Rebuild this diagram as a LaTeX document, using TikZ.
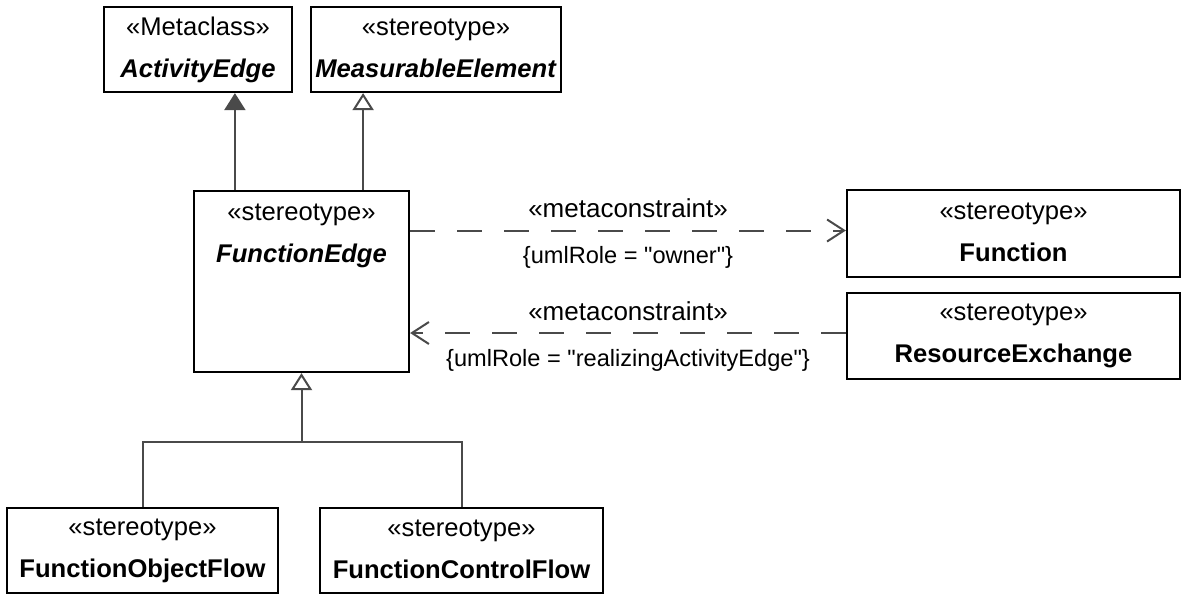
\documentclass[tikz,border=0pt]{standalone}
\usepackage{fontspec}
\setmainfont{Liberation Sans}[Ligatures=TeXOff]
\usepackage{xcolor}
\usetikzlibrary{arrows.meta}

\definecolor{edgegray}{HTML}{4A4A4A}
% strut that fixes the depth of the last line of a box
\newcommand{\lo}[1][1pt]{\rule[-#1]{0pt}{#1}}

\begin{document}
\begin{tikzpicture}[x=0.5pt, y=-0.5pt,
  classbox/.style={draw=black, line width=1.1pt, fill=white, align=center,
    font=\fontsize{12.8}{21}\selectfont, inner sep=0pt},
  conn/.style={draw=edgegray, line width=1pt},
  gen/.style={conn, -{Triangle[length=8.5pt, width=10.5pt, fill=white]}},
  ext/.style={conn, -{Triangle[length=8.5pt, width=10.5pt, fill=edgegray]}},
  dep/.style={conn, dash pattern=on 12.5pt off 11pt,
    -{Straight Barb[length=8.5pt, width=11pt]}},
  tag/.style={font=\fontsize{13}{15}\selectfont, anchor=base},
  role/.style={font=\fontsize{11.8}{15}\selectfont, anchor=base}]
  \useasboundingbox (0,0) rectangle (1182,594);

  % classes
  \node[classbox, minimum width=94pt, minimum height=42.5pt] (aedge) at (198,49.5)
       {«Metaclass»\\\textbf{\textit{ActivityEdge}}\lo};
  \node[classbox, minimum width=125pt, minimum height=42.5pt] (melem) at (436,49.5)
       {«stereotype»\\\textbf{\textit{MeasurableElement}}\lo};
  \node[classbox, minimum width=107.5pt, minimum height=90.5pt] (fedge) at (301.5,281.5)
       {«stereotype»\\\textbf{\textit{FunctionEdge}}\lo[48pt]};
  \node[classbox, minimum width=166.5pt, minimum height=43.5pt] (func) at (1013.5,233.5)
       {«stereotype»\\\textbf{Function}\lo};
  \node[classbox, minimum width=166.5pt, minimum height=43pt] (resx) at (1013.5,336)
       {«stereotype»\\\textbf{ResourceExchange}\lo};
  \node[classbox, minimum width=135.5pt, minimum height=42.5pt] (fobj) at (142.5,550.5)
       {«stereotype»\\\textbf{FunctionObjectFlow}\lo};
  \node[classbox, minimum width=141.5pt, minimum height=42.5pt] (fctrl) at (461.5,550.5)
       {«stereotype»\\\textbf{FunctionControlFlow}\lo};

  % generalizations upwards
  \draw[ext] ([xshift=21pt]fedge.north west) -- ([xshift=21pt]fedge.north west |- aedge.south);
  \draw[gen] ([xshift=-23.5pt]fedge.north east) -- ([xshift=-23.5pt]fedge.north east |- melem.south);

  % metaconstraints
  \draw[dep] ([yshift=1.5pt]fedge.east |- func.west)
    -- node[tag, yshift=6.5pt] (mc1) {«metaconstraint»}
       node[role, yshift=-16.5pt] (role1) {\{umlRole = "owner"\}}
    ([yshift=1.5pt]func.west);
  \draw[dep] ([yshift=1.5pt]resx.west)
    -- node[tag, yshift=6.5pt] (mc2) {«metaconstraint»}
       node[role, yshift=-16.5pt] (role2) {\{umlRole = "realizingActivityEdge"\}}
    ([yshift=1.5pt]fedge.east |- resx.west);

  % specializations of FunctionEdge
  \coordinate (fork) at (301.5,442);
  \draw[conn] (fobj.north) |- (fork) -| (fctrl.north);
  \draw[gen] (fork) -- (fedge.south);
\end{tikzpicture}
\end{document}
